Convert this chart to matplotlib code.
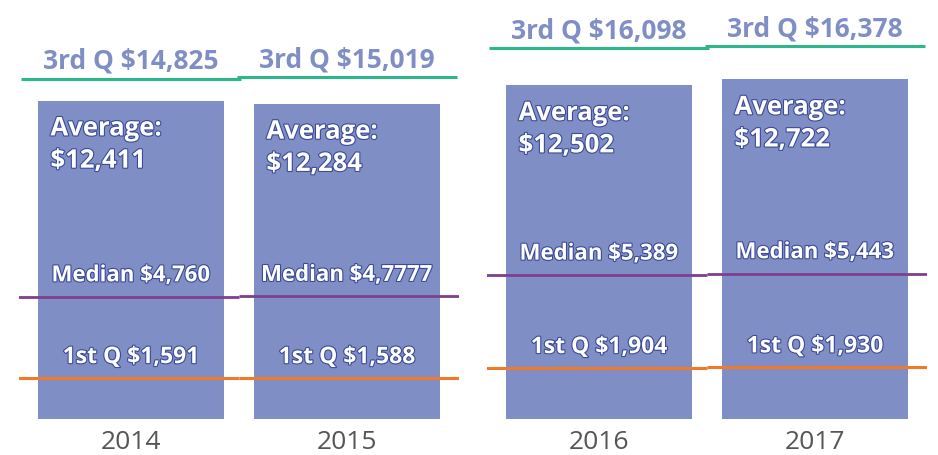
import matplotlib
matplotlib.use('Agg')
import matplotlib.pyplot as plt
import matplotlib.patheffects as pe
import numpy as np

plt.rcParams['font.family'] = ['Open Sans', 'DejaVu Sans']

# values
years = ['2014', '2015', '2016', '2017']
average = [12411, 12284, 12502, 12722]
q3 = [14825, 15019, 16098, 16378]
median = [4760, 4777, 5389, 5443]
median_text = ['$4,760', '$4,7777', '$5,389', '$5,443']  # as printed in the original
q1 = [1591, 1588, 1904, 1930]

BAR = '#7f8fc6'
LABEL = '#7f8fc6'
GREEN = '#2bb68b'
PURPLE = '#7d3f8e'
ORANGE = '#f07a2a'
GRAY = '#555555'


def squeeze_scale(brk, k):
    # linear up to brk, compressed above it (the 3rd Q lines sit close to the bars)
    def fwd(v):
        v = np.asarray(v, float)
        return np.where(v <= brk, v, brk + (v - brk) * k)

    def inv(u):
        u = np.asarray(u, float)
        return np.where(u <= brk, u, brk + (u - brk) / k)
    return fwd, inv


stroke = [pe.withStroke(linewidth=1.6, foreground='#3b4a99')]

fig = plt.figure(figsize=(9.38, 4.55), dpi=100)

# (axes left, which bars, break, y max)
panels = [(0.0199, [0, 1], 12500, 24115),
          (0.5189, [2, 3], 12800, 21585)]

bar_w = 0.861
for left, idx, brk, ymax in panels:
    ax = fig.add_axes([left, 0.0798, 0.4697, 0.9202])
    ax.set_yscale('function', functions=squeeze_scale(brk, 0.33))
    ax.set_ylim(0, ymax)
    ax.set_xlim(-0.52, 1.52)
    x = np.arange(len(idx))

    ax.bar(x, [average[i] for i in idx], width=bar_w, color=BAR, zorder=1)

    for xi, i in zip(x, idx):
        # median / 1st Q lines meet in the middle of the panel
        lo = xi - 0.5 - (0.05 if xi == 0 else 0)
        hi = xi + 0.5 + (0.05 if xi == x[-1] else 0)
        ax.hlines(q3[i], xi - 0.51, xi + 0.51, color=GREEN, lw=2.2, zorder=3)
        ax.hlines(median[i], lo, hi, color=PURPLE, lw=2.0, zorder=3)
        ax.hlines(q1[i], lo, hi, color=ORANGE, lw=2.2, zorder=3)

        ax.annotate(f'3rd Q ${q3[i]:,}', (xi, q3[i]), xytext=(0, 7),
                    textcoords='offset points', ha='center', va='baseline',
                    color=LABEL, fontsize=19, fontweight='bold')
        ax.annotate(f'Average:\n${average[i]:,}', (xi - bar_w / 2, average[i]),
                    xytext=(9, -10), textcoords='offset points', ha='left', va='top',
                    color='white', fontsize=18.5, fontweight='bold', linespacing=1.25,
                    path_effects=stroke, zorder=4)
        ax.annotate(f'Median {median_text[i]}', (xi, median[i]), xytext=(0, 15),
                    textcoords='offset points', ha='center', va='center',
                    color='white', fontsize=16, fontweight='bold',
                    path_effects=stroke, zorder=4)
        ax.annotate(f'1st Q ${q1[i]:,}', (xi, q1[i]), xytext=(0, 15),
                    textcoords='offset points', ha='center', va='center',
                    color='white', fontsize=16.5, fontweight='bold',
                    path_effects=stroke, zorder=4)

    ax.set_xticks(x, [years[i] for i in idx])
    ax.tick_params(axis='x', length=0, pad=8, labelsize=19, labelcolor=GRAY)
    ax.set_yticks([])
    ax.minorticks_off()
    for s in ax.spines.values():
        s.set_visible(False)
    ax.patch.set_visible(False)

fig.savefig('out.png', dpi=100)
